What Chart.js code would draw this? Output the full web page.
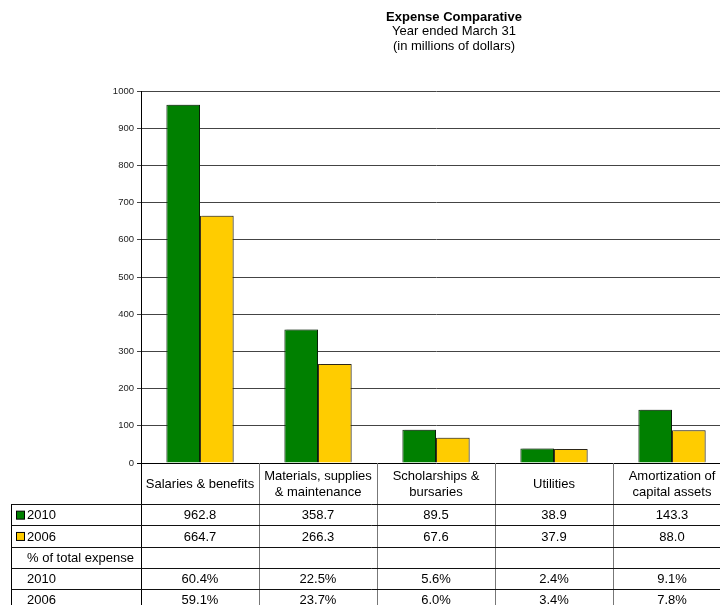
<!DOCTYPE html>
<html>
<head>
<meta charset="utf-8">
<script src="https://cdn.jsdelivr.net/npm/chart.js@4/dist/chart.umd.min.js"></script>
<style>
  html, body { margin: 0; padding: 0; overflow: hidden; background: #fff; }
  canvas { display: block; }
</style>
</head>
<body>
<canvas id="expenseChart" width="740" height="605"></canvas>
<script>
// chart data
var categories = [
	['Salaries & benefits'],
	['Materials, supplies', '& maintenance'],
	['Scholarships &', 'bursaries'],
	['Utilities'],
	['Amortization of', 'capital assets']
];
var seriesNames = ['2010', '2006'];
var values2010 = [962.8, 358.7, 89.5, 38.9, 143.3];
var values2006 = [664.7, 266.3, 67.6, 37.9, 88.0];
var pctLabel = '% of total expense';
var pct2010 = ['60.4%', '22.5%', '5.6%', '2.4%', '9.1%'];
var pct2006 = ['59.1%', '23.7%', '6.0%', '3.4%', '7.8%'];
var yMin = 0, yMax = 1000, yStep = 100;
var titleLines = ['Expense Comparative', 'Year ended March 31', '(in millions of dollars)'];

var colors = ['#008000', '#ffcc00'];
var FONT = "'Liberation Sans', Arial, sans-serif";

function fmt(v) { return v.toFixed(1) }

// title drawn above the plot
var titlePlugin = {
	id: 'titleLines',
	afterDraw: function (chart) {
		var ctx = chart.ctx
		ctx.save()
		ctx.fillStyle = '#000'
		ctx.textAlign = 'center'
		ctx.textBaseline = 'middle'
		titleLines.forEach(function (t, i) {
			ctx.font = (i == 0 ? 'bold ' : '') + '13px ' + FONT
			ctx.fillText(t, 454, 17 + i * 14.5)
		})
		ctx.restore()
	}
}

// data table under the x axis
var tablePlugin = {
	id: 'dataTable',
	afterDraw: function (chart) {
		var ctx = chart.ctx
		var area = chart.chartArea
		var xs = chart.scales.x
		var colW = (area.right - area.left) / categories.length
		var top = area.bottom
		var headH = 41
		var rowH = 21.3
		var leftX = 11.5
		var rows = [
			{ label: seriesNames[0], box: colors[0], cells: values2010.map(fmt) },
			{ label: seriesNames[1], box: colors[1], cells: values2006.map(fmt) },
			{ label: pctLabel, cells: categories.map(function () { return '' }) },
			{ label: seriesNames[0], cells: pct2010 },
			{ label: seriesNames[1], cells: pct2006 }
		]
		var bottom = top + headH + rowH * rows.length

		ctx.save()
		ctx.lineWidth = 1

		// vertical lines
		ctx.strokeStyle = '#777'
		for (var i = 1; i <= categories.length; i++) {
			var x = Math.round(area.left + colW * i) + 0.5
			ctx.beginPath(); ctx.moveTo(x, top); ctx.lineTo(x, bottom); ctx.stroke()
		}
		ctx.strokeStyle = '#000'
		ctx.beginPath(); ctx.moveTo(area.left + 0.5, top); ctx.lineTo(area.left + 0.5, bottom); ctx.stroke()
		ctx.beginPath(); ctx.moveTo(leftX, top + headH); ctx.lineTo(leftX, bottom); ctx.stroke()

		// horizontal lines
		ctx.strokeStyle = '#111'
		for (var r = 0; r < rows.length; r++) {
			var y = Math.round(top + headH + rowH * r) + 0.5
			ctx.beginPath(); ctx.moveTo(leftX, y); ctx.lineTo(area.right, y); ctx.stroke()
		}

		ctx.fillStyle = '#000'
		ctx.font = '13px ' + FONT
		ctx.textBaseline = 'middle'

		// header with category names
		ctx.textAlign = 'center'
		categories.forEach(function (lines, c) {
			var cx = xs.getPixelForValue(c)
			var cy = top + headH / 2 + 1
			lines.forEach(function (t, k) {
				ctx.fillText(t, cx, cy + (k - (lines.length - 1) / 2) * 16)
			})
		})

		// rows
		rows.forEach(function (row, r) {
			var cy = top + headH + rowH * r + rowH / 2 + 1
			if (row.box) {
				ctx.fillStyle = row.box
				ctx.fillRect(16.5, cy - 4.5, 8, 8)
				ctx.strokeStyle = '#000'
				ctx.strokeRect(16.5, cy - 4.5, 8, 8)
			}
			ctx.fillStyle = '#000'
			ctx.textAlign = 'left'
			ctx.fillText(row.label, 27, cy)
			ctx.textAlign = 'center'
			row.cells.forEach(function (t, c) {
				ctx.fillText(t, xs.getPixelForValue(c), cy)
			})
		})
		ctx.restore()
	}
}

// light shadow behind the bars
var shadowPlugin = {
	id: 'barShadow',
	beforeDatasetsDraw: function (chart) {
		var ctx = chart.ctx
		ctx.save()
		ctx.shadowColor = 'rgba(0,0,0,0.22)'
		ctx.shadowOffsetX = 2
		ctx.shadowOffsetY = -1
		ctx.shadowBlur = 0
	},
	afterDatasetsDraw: function (chart) {
		chart.ctx.restore()
	}
}

new Chart(document.getElementById('expenseChart'), {
	type: 'bar',
	data: {
		labels: categories,
		datasets: [{
			label: seriesNames[0],
			data: values2010,
			backgroundColor: colors[0],
			borderColor: '#0b2a0b',
			borderWidth: 1
		}, {
			label: seriesNames[1],
			data: values2006,
			backgroundColor: colors[1],
			borderColor: '#3a3320',
			borderWidth: 1
		}]
	},
	options: {
		responsive: false,
		animation: false,
		events: [],
		layout: {
			padding: { left: 0, top: 91, right: 9, bottom: 142 }
		},
		datasets: {
			bar: { categoryPercentage: 0.57, barPercentage: 1.0 }
		},
		plugins: {
			legend: { display: false },
			title: { display: false },
			tooltip: { enabled: false }
		},
		scales: {
			x: {
				display: false
			},
			y: {
				min: yMin,
				max: yMax,
				afterFit: function (scale) { scale.width = 141 },
				border: { display: true, color: '#000', width: 1 },
				grid: {
					color: function (c) { return c.tick && c.tick.value == 0 ? '#000' : '#444' },
					lineWidth: 1,
					tickLength: 4,
					drawTicks: true
				},
				ticks: {
					stepSize: yStep,
					padding: 3,
					color: '#222',
					font: { family: FONT, size: 9.5 },
					callback: function (v) { return String(v) }
				}
			}
		}
	},
	plugins: [shadowPlugin, titlePlugin, tablePlugin]
})
</script>
</body>
</html>
